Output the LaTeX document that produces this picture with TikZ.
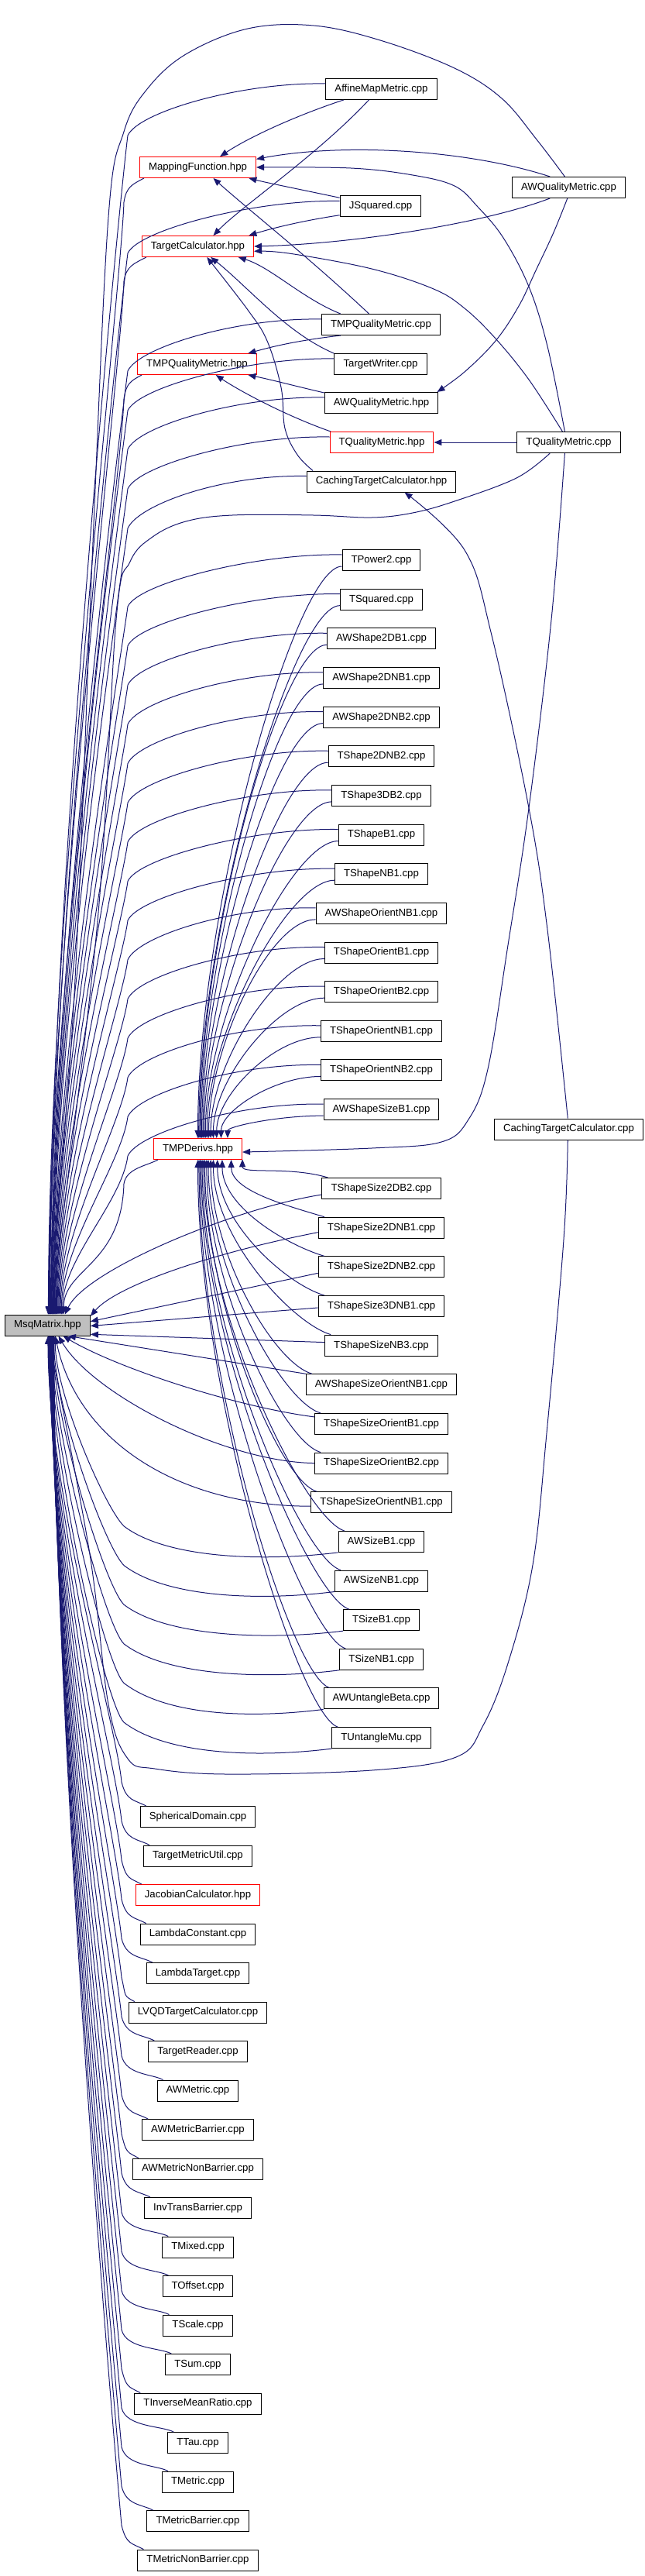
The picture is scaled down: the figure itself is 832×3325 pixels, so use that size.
\documentclass[tikz,border=0pt]{standalone}
\usepackage{fontspec}
\setmainfont{Liberation Sans}
\usepackage{xcolor}
\usetikzlibrary{arrows.meta,calc}
\definecolor{edgeblue}{HTML}{191970}
\definecolor{msqgray}{HTML}{BFBFBF}

\begin{document}
\begin{tikzpicture}[x=0.75pt,y=-0.75pt,
    file/.style={draw=black,fill=white,line width=0.75pt,inner xsep=8.7pt,inner ysep=0pt,
      minimum height=20.25pt,font=\fontsize{9.9}{12}\selectfont},
    hub/.style={file,draw=red},
    root/.style={file,fill=msqgray},
    dep/.style={draw=edgeblue,line width=0.75pt,-{Triangle[length=7.5pt,width=6pt]}}]
    \useasboundingbox (0,0) rectangle (832,3325);

    % the included header
    \node[root] (msq) at (61.5,1710.5) {MsqMatrix.hpp};

    % second column
    \node[hub] (mapf) at (255.5,216) {MappingFunction.hpp};
    \node[hub] (tcal) at (255.5,318) {TargetCalculator.hpp};
    \node[hub] (tmpqh) at (254.5,470) {TMPQualityMetric.hpp};
    \node[hub] (tmpd) at (255.5,1483) {TMPDerivs.hpp};
    \foreach \t/\s [count=\i from 0] in {SphericalDomain.cpp/file, TargetMetricUtil.cpp/file,
        JacobianCalculator.hpp/hub, LambdaConstant.cpp/file, LambdaTarget.cpp/file,
        LVQDTargetCalculator.cpp/file, TargetReader.cpp/file, AWMetric.cpp/file,
        AWMetricBarrier.cpp/file, AWMetricNonBarrier.cpp/file, InvTransBarrier.cpp/file,
        TMixed.cpp/file, TOffset.cpp/file, TScale.cpp/file, TSum.cpp/file,
        TInverseMeanRatio.cpp/file, TTau.cpp/file, TMetric.cpp/file,
        TMetricBarrier.cpp/file, TMetricNonBarrier.cpp/file}
        \node[\s] (b\i) at (255.5,{2345+50.5*\i}) {\t};

    % third column
    \node[file] (amm) at (492.5,115) {AffineMapMetric.cpp};
    \node[file] (jsq) at (491.5,266.5) {JSquared.cpp};
    \node[file] (tmpqc) at (492,419) {TMPQualityMetric.cpp};
    \node[file] (twri) at (491.5,470) {TargetWriter.cpp};
    \node[file] (awqh) at (492.5,520) {AWQualityMetric.hpp};
    \node[hub] (tqmh) at (493,571) {TQualityMetric.hpp};
    \node[file] (ctch) at (492.5,621.5) {CachingTargetCalculator.hpp};
    \foreach \t [count=\i from 0] in {TPower2.cpp, TSquared.cpp, AWShape2DB1.cpp,
        AWShape2DNB1.cpp, AWShape2DNB2.cpp, TShape2DNB2.cpp, TShape3DB2.cpp, TShapeB1.cpp,
        TShapeNB1.cpp, AWShapeOrientNB1.cpp, TShapeOrientB1.cpp, TShapeOrientB2.cpp,
        TShapeOrientNB1.cpp, TShapeOrientNB2.cpp, AWShapeSizeB1.cpp}
        \node[file] (u\i) at (492.5,{723+50.65*\i}) {\t};
    \foreach \t [count=\i from 0] in {TShapeSize2DB2.cpp, TShapeSize2DNB1.cpp,
        TShapeSize2DNB2.cpp, TShapeSize3DNB1.cpp, TShapeSizeNB3.cpp, AWShapeSizeOrientNB1.cpp,
        TShapeSizeOrientB1.cpp, TShapeSizeOrientB2.cpp, TShapeSizeOrientNB1.cpp, AWSizeB1.cpp,
        AWSizeNB1.cpp, TSizeB1.cpp, TSizeNB1.cpp, AWUntangleBeta.cpp, TUntangleMu.cpp}
        \node[file] (l\i) at (492.5,{1534+50.65*\i}) {\t};

    % fourth column
    \node[file] (awqc) at (734.5,242) {AWQualityMetric.cpp};
    \node[file] (tqmc) at (734.5,571) {TQualityMetric.cpp};
    \node[file] (ctcc) at (734.5,1457.5) {CachingTargetCalculator.cpp};

    % includes among the upper files
    \draw[dep] (awqc.150) .. controls (610,195) and (450,183) .. (mapf.8);
    \draw[dep] (awqc.-150) .. controls (620,290) and (450,315) .. (tcal.east);
    \draw[dep] plot[smooth,tension=0.6] coordinates {(awqc.-97) (715,300) (693,347) (670,395) (640,440) (600,480) (awqh.11)};
    \draw[dep] plot[smooth,tension=0.6] coordinates {(awqc.110) (693,180) (648,127) (587,88) (491,52) (405,33) (320,37) (240,70) (190,115) (160,170) (140,280) (120,700) (95,1300) (msq.88)};
    \draw[dep] (amm.-164) .. controls (380,150) and (320,178) .. (mapf.26);
    \draw[dep] (amm.-139) .. controls (410,200) and (310,268) .. (tcal.35);
    \draw[dep] (jsq.168) .. controls (390,245) and (345,236) .. (mapf.-12);
    \draw[dep] (jsq.-168) .. controls (390,285) and (350,295) .. (tcal.12);
    \draw[dep] (tmpqc.138) .. controls (400,333) and (320,270) .. (mapf.-35);
    \draw[dep] (tmpqc.165) .. controls (390,385) and (350,345) .. (tcal.-15);
    \draw[dep] (tmpqc.-165) .. controls (380,440) and (350,448) .. (tmpqh.12);
    \draw[dep] (twri.167) .. controls (370,430) and (320,370) .. (tcal.-40);
    \draw[dep] (tqmh.168) .. controls (370,537) and (310,505) .. (tmpqh.-30);
    \draw[dep] (awqh.170) .. controls (380,498) and (350,490) .. (tmpqh.-12);
    \draw[dep] plot[smooth,tension=0.6] coordinates {(ctch.171) (384,587) (368,553) (363,500) (345,440) (320,400) (tcal.-50)};
    \draw[dep] (tqmc.west) -- (tqmh.east);
    \draw[dep] plot[smooth,tension=0.6] coordinates {(tqmc.110) (707,447) (683,370) (650,307) (617,267) (587,240) (533,226) (453,217) (mapf.east)};
    \draw[dep] plot[smooth,tension=0.6] coordinates {(tqmc.120) (683,490) (640,437) (600,398) (560,373) (480,347) (373,327) (tcal.-5)};
    \draw[dep] plot[smooth,tension=0.6] coordinates {(tqmc.-150) (667,617) (587,647) (533,662) (480,668) (405,665) (300,665) (240,673) (197,693) (168,725) (150,800) (125,1200) (msq.76)};
    \draw[dep] plot[smooth,tension=0.6] coordinates {(tqmc.-110) (712,800) (683,1043) (656,1220) (630,1380) (605,1445) (570,1474) (480,1482) (tmpd.-4)};
    \draw[dep] plot[smooth,tension=0.6] coordinates {(ctcc.95) (707,1200) (683,1043) (635,820) (600,710) (ctch.-25)};
    \draw[dep] plot[smooth,tension=0.6] coordinates {(ctcc.-95) (728,1600) (706,1850) (688,2020) (656,2147) (624,2227) (589,2268) (480,2285) (293,2290) (200,2283) (165,2270) (140,2200) (115,2000) (msq.-86)};

    % everything above comes down to MsqMatrix
    \foreach \n/\yy/\angA in {mapf/216/86, tcal/318/84, tmpqh/470/82, tmpd/1483/34} {
        \pgfmathsetmacro\dl{0.35*(1652-\yy)}
        \draw[dep] ($(\n.south west)+(6,0)$) .. controls +(-15,8) and (163,\yy+25) .. (160,\yy+45)
            .. controls (157,\yy+150) and +(0,-\dl) .. (msq.\angA);
    }
    \foreach \n/\yy/\angA in {amm/115/80, jsq/267/78, tmpqc/419/74, twri/470/72, awqh/520/70, tqmh/571/68, ctch/622/66} {
        \pgfmathsetmacro\dl{0.35*(1637-\yy)}
        \draw[dep] ($(\n.west)+(0,-7)$) .. controls +(-110,-2) and (178,\yy+30) .. (165,\yy+60)
            .. controls (157,\yy+120) and +(0,-\dl) .. (msq.\angA);
    }
    \foreach \i in {0,...,14} {
        \pgfmathsetmacro\yy{723+50.65*\i}
        \pgfmathtruncatemacro\angA{64-2*\i}
        \pgfmathtruncatemacro\angB{90-5*\i}
        \pgfmathsetmacro\dl{0.35*(1637-\yy)}
        \pgfmathsetmacro\dk{0.4*(1469-\yy)}
        \draw[dep] ($(u\i.west)+(0,-7)$) .. controls +(-110,-2) and (178,\yy+30) .. (165,\yy+60)
            .. controls (157,\yy+120) and +(0,-\dl) .. (msq.\angA);
        \draw[dep] ($(u\i.west)+(0,8)$) .. controls +(-60,0) and +(0,-\dk) .. (tmpd.\angB);
    }

    % lower third column
    \foreach \i in {0,...,14} {
        \pgfmathsetmacro\yy{1534+50.65*\i}
        \pgfmathtruncatemacro\angB{13+5.5*\i}
        \pgfmathsetmacro\dk{0.4*(\yy-1510)+10}
        \draw[dep] ($(l\i.north west)+(8,0)$) .. controls +(-50,-15) and +(0,\dk) .. (tmpd.-\angB);
    }
    \draw[dep] ($(l0.west)+(0,8)$) .. controls (300,1560) and (110,1640) .. (msq.32);
    \draw[dep] ($(l1.west)+(0,6)$) .. controls (270,1618) and (150,1660) .. (msq.12);
    \draw[dep] ($(l2.west)+(0,8)$) -- (msq.5);
    \draw[dep] ($(l3.west)+(0,2)$) -- (msq.-1);
    \draw[dep] ($(l4.west)+(0,-4)$) -- (msq.-12);
    \draw[dep] (l5.north west) -- (msq.-28);
    \draw[dep] ($(l6.north west)+(0,5)$) .. controls (300,1815) and (150,1765) .. (msq.-35);
    \draw[dep] (l7.west) .. controls (290,1887) and (120,1800) .. (msq.-45);
    \draw[dep] ($(l8.west)+(0,5)$) .. controls (230,1944) and (100,1860) .. (msq.-55);
    \foreach \i in {9,...,14} {
        \pgfmathsetmacro\yy{1534+50.65*\i}
        \pgfmathtruncatemacro\angA{55+5*(\i-9)}
        \pgfmathsetmacro\dk{0.3*(\yy-20-1724)}
        \draw[dep] (l\i.south west) .. controls +(-96,12) and (215,\yy+22) .. (160,\yy-20)
            .. controls (135,\yy-45) and +(0,\dk) .. (msq.-\angA);
    }

    % lower second column
    \foreach \i in {0,...,19} {
        \pgfmathsetmacro\yy{2345+50.5*\i}
        \pgfmathtruncatemacro\angA{88-1.5*\i}
        \pgfmathsetmacro\dk{0.35*(\yy-45-1724)}
        \draw[dep] ($(b\i.north west)+(8,0)$) .. controls +(-15,-8) and (163,\yy-20) .. (157,\yy-45)
            .. controls (150,\yy-120) and +(0,\dk) .. (msq.-\angA);
    }
\end{tikzpicture}
\end{document}
